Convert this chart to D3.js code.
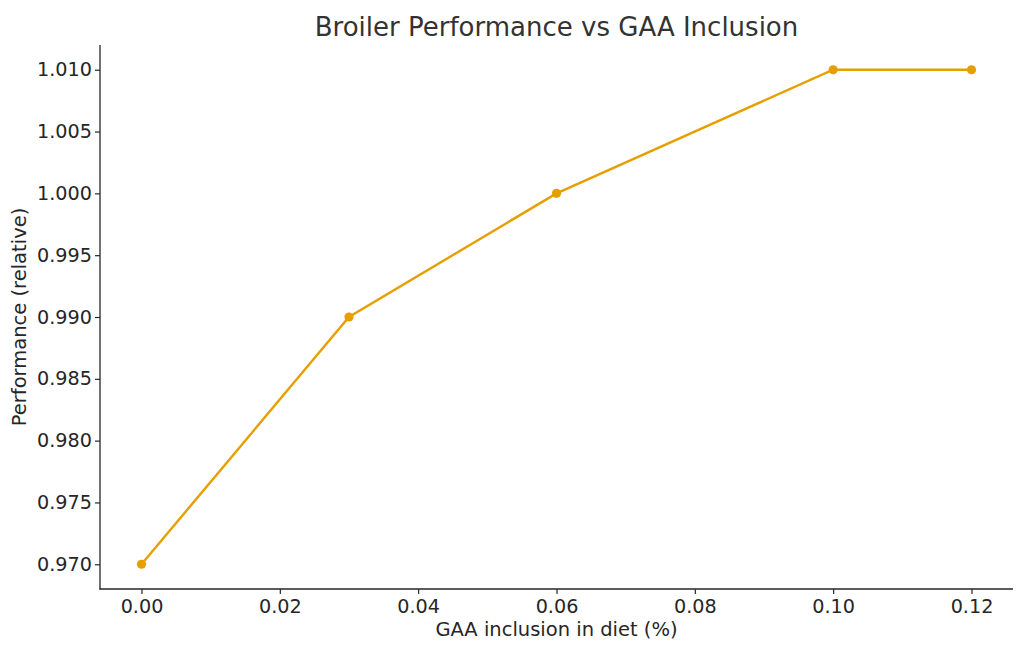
<!DOCTYPE html>
<html><head><meta charset="utf-8">
<script src="https://cdn.jsdelivr.net/npm/d3@7"></script>
<style>body{margin:0;background:#fff;}svg{display:block;font-family:"DejaVu Sans",sans-serif;}</style>
</head><body>
<svg id="c" width="1024" height="656"></svg>
<script>
const inclusion = [0.00, 0.03, 0.06, 0.10, 0.12];
const performance = [0.970, 0.990, 1.000, 1.010, 1.010];
const xTicks = [0.00, 0.02, 0.04, 0.06, 0.08, 0.10, 0.12];
const yTicks = [0.970, 0.975, 0.980, 0.985, 0.990, 0.995, 1.000, 1.005, 1.010];
const title = "Broiler Performance vs GAA Inclusion";
const xLabel = "GAA inclusion in diet (%)";
const yLabel = "Performance (relative)";

const svg = d3.select("#c");
const L = 100, R = 1013, T = 45, B = 589;
const x = d3.scaleLinear().domain([-0.006, 0.126]).range([L, R]);
const y = d3.scaleLinear().domain([0.968, 1.012]).range([B, T]);
const ink = "#262626";

const gx = svg.append("g").attr("transform", `translate(0,${B})`)
  .call(d3.axisBottom(x).tickValues(xTicks).tickFormat(d3.format(".2f")).tickSizeOuter(0).tickSize(5).tickPadding(5));
const gy = svg.append("g").attr("transform", `translate(${L},0)`)
  .call(d3.axisLeft(y).tickValues(yTicks).tickFormat(d3.format(".3f")).tickSizeOuter(0).tickSize(5).tickPadding(3));
[gx, gy].forEach(g => {
  g.select(".domain").remove();
  g.selectAll(".tick line").attr("stroke", ink).attr("stroke-width", 1.2);
  g.selectAll(".tick text").attr("fill", ink).style("font-size", "19.2px").style("font-family", "DejaVu Sans");
});
svg.append("line").attr("x1", L).attr("x2", L).attr("y1", T).attr("y2", B + 0.6)
  .attr("stroke", ink).attr("stroke-width", 1.3);
svg.append("line").attr("x1", L - 0.6).attr("x2", R).attr("y1", B).attr("y2", B)
  .attr("stroke", ink).attr("stroke-width", 1.3);

const line = d3.line().x((d, i) => x(inclusion[i])).y(d => y(d));
svg.append("path").datum(performance).attr("d", line)
  .attr("fill", "none").attr("stroke", "#E69F00").attr("stroke-width", 2.4);
svg.selectAll("circle.pt").data(performance).enter().append("circle")
  .attr("cx", (d, i) => x(inclusion[i])).attr("cy", d => y(d)).attr("r", 4.6).attr("fill", "#E69F00");

svg.append("text").attr("x", (L + R) / 2).attr("y", 36).attr("text-anchor", "middle")
  .attr("fill", "#333").style("font-size", "26px").text(title);
svg.append("text").attr("x", (L + R) / 2).attr("y", 636).attr("text-anchor", "middle")
  .attr("fill", ink).style("font-size", "19.5px").text(xLabel);
svg.append("text").attr("transform", `translate(26,${(T + B) / 2}) rotate(-90)`).attr("text-anchor", "middle")
  .attr("fill", ink).style("font-size", "19.5px").text(yLabel);
</script>
</body></html>
